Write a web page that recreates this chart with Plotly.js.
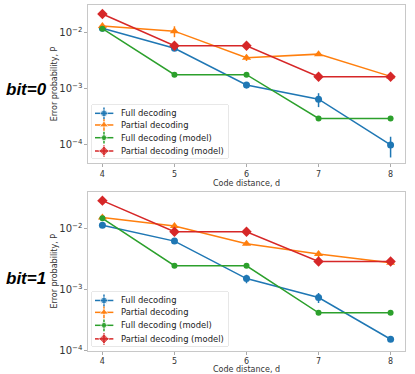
<!DOCTYPE html>
<html>
<head>
<meta charset="utf-8">
<script src="https://cdn.plot.ly/plotly-3.0.1.min.js"></script>
<style>
  body { margin: 0; background: white; }
  #graph { width: 415px; height: 374px; }
</style>
</head>
<body>
<div id="graph"></div>
<script>
// code distances
var d = [4, 5, 6, 7, 8];

// bit=0 panel
var full0 = [0.0118, 0.0052, 0.00116, 0.00065, 0.0001];
var full0_err = [0.0004, 0.0003, 0.00015, 0.00018, 0.00004];
var part0 = [0.0129, 0.0105, 0.00355, 0.0041, 0.00165];
var part0_err = [0.0005, 0.0023, 0.00045, 0.0003, 0.00012];
var fullModel0 = [0.0116, 0.00177, 0.00177, 0.000295, 0.000295];
var partModel0 = [0.0211, 0.00578, 0.00578, 0.00163, 0.00163];

// bit=1 panel
var full1 = [0.0113, 0.0062, 0.00151, 0.00074, 0.000154];
var full1_err = [0.0004, 0.0003, 0.00024, 0.00014, 0.00001];
var part1 = [0.0151, 0.0109, 0.0056, 0.0038, 0.00274];
var part1_err = [0.0006, 0.0005, 0.0003, 0.0004, 0.00015];
var fullModel1 = [0.0146, 0.00245, 0.00245, 0.000416, 0.000416];
var partModel1 = [0.0284, 0.0088, 0.0088, 0.00288, 0.00288];

var names = ['Full decoding', 'Partial decoding', 'Full decoding (model)', 'Partial decoding (model)'];
var colors = ['#1f77b4', '#ff7f0e', '#2ca02c', '#d62728'];
var symbols = ['circle', 'triangle-up', 'circle', 'diamond'];
var sizes = [7, 8, 6, 8];

// one series as a line with markers (and error bars if given)
function series(y, err, i, xa, ya) {
    var tr = {
        x: d,
        y: y,
        xaxis: xa,
        yaxis: ya,
        mode: 'lines+markers',
        name: names[i],
        showlegend: false,
        line: {color: colors[i], width: 1.5},
        marker: {color: colors[i], symbol: symbols[i], size: sizes[i]},
        hoverinfo: 'skip'
    };
    if (err) {
        tr.error_y = {type: 'data', array: err, color: colors[i], thickness: 1.5, width: 0};
    }
    return tr;
}

// little legend samples drawn on a hidden 0..1 axis
var rows = [0.843, 0.623, 0.383, 0.132];
function legendSample(i, xa, ya) {
    return {
        x: [0.022, 0.088, 0.157],
        y: [rows[i], rows[i], rows[i]],
        xaxis: xa,
        yaxis: ya,
        mode: 'lines+markers',
        showlegend: false,
        line: {color: colors[i], width: 1.5},
        marker: {color: colors[i], symbol: symbols[i], size: [0, sizes[i], 0]},
        error_y: {type: 'data', array: [0, 0.11, 0], color: colors[i], thickness: 1.5, width: 0},
        hoverinfo: 'skip'
    };
}

var data = [
    series(full0, full0_err, 0, 'x', 'y'),
    series(part0, part0_err, 1, 'x', 'y'),
    series(fullModel0, null, 2, 'x', 'y'),
    series(partModel0, null, 3, 'x', 'y'),
    series(full1, full1_err, 0, 'x2', 'y2'),
    series(part1, part1_err, 1, 'x2', 'y2'),
    series(fullModel1, null, 2, 'x2', 'y2'),
    series(partModel1, null, 3, 'x2', 'y2')
];
for (var i = 0; i < 4; i++) {
    data.push(legendSample(i, 'x3', 'y3'));
    data.push(legendSample(i, 'x4', 'y4'));
}

var tickFont = {family: 'DejaVu Sans', size: 8, color: '#333'};
var xdomain = [88 / 415, 405 / 415];

function xAxis(anchor) {
    return {
        domain: xdomain,
        anchor: anchor,
        range: [3.8, 8.2],
        tickvals: d,
        ticks: 'outside',
        ticklen: 3,
        tickcolor: '#aaa',
        showgrid: false,
        zeroline: false,
        showline: true,
        linecolor: '#c8c8c8',
        mirror: true,
        tickfont: tickFont,
        title: {text: 'Code distance, d', font: tickFont, standoff: 1}
    };
}
function yAxis(anchor, dom, rng) {
    return {
        domain: dom,
        anchor: anchor,
        type: 'log',
        range: rng,
        dtick: 1,
        exponentformat: 'power',
        ticks: 'outside',
        ticklen: 3,
        tickcolor: '#aaa',
        showgrid: false,
        zeroline: false,
        showline: true,
        linecolor: '#c8c8c8',
        mirror: true,
        tickfont: tickFont,
        title: {text: 'Error probability, P', font: tickFont, standoff: 0}
    };
}
function hidden(dom, anchor) {
    return {domain: dom, anchor: anchor, range: [0, 1], visible: false, fixedrange: true};
}

var leg0 = [1 - 158 / 374, 1 - 105 / 374];
var leg1 = [1 - 346 / 374, 1 - 292 / 374];
var legx = [92 / 415, 228 / 415];

var annotations = [];
var legFont = {family: 'DejaVu Sans', size: 8.4, color: '#222'};
for (var i = 0; i < 4; i++) {
    annotations.push({xref: 'x3', yref: 'y3', x: 0.195, y: rows[i], text: names[i], showarrow: false,
        xanchor: 'left', yanchor: 'middle', font: legFont});
    annotations.push({xref: 'x4', yref: 'y4', x: 0.195, y: rows[i], text: names[i], showarrow: false,
        xanchor: 'left', yanchor: 'middle', font: legFont});
}
var bitFont = {family: 'Liberation Sans', size: 17, color: 'black', weight: 'bold', style: 'italic'};
annotations.push({xref: 'paper', yref: 'paper', x: 26 / 415, y: 1 - 90 / 374, text: 'bit=0',
    showarrow: false, xanchor: 'center', yanchor: 'middle', font: bitFont});
annotations.push({xref: 'paper', yref: 'paper', x: 26 / 415, y: 1 - 278 / 374, text: 'bit=1',
    showarrow: false, xanchor: 'center', yanchor: 'middle', font: bitFont});

var layout = {
    width: 415,
    height: 374,
    margin: {l: 0, r: 0, t: 0, b: 0},
    paper_bgcolor: 'white',
    plot_bgcolor: 'white',
    showlegend: false,
    xaxis: xAxis('y'),
    yaxis: yAxis('x', [1 - 163 / 374, 1 - 5 / 374], [-4.32, -1.515]),
    xaxis2: xAxis('y2'),
    yaxis2: yAxis('x2', [1 - 350.7 / 374, 1 - 191.7 / 374], [-4.0, -1.4]),
    xaxis3: hidden(legx, 'y3'),
    yaxis3: hidden(leg0, 'x3'),
    xaxis4: hidden(legx, 'y4'),
    yaxis4: hidden(leg1, 'x4'),
    shapes: [
        {type: 'rect', xref: 'paper', yref: 'paper', x0: legx[0], x1: legx[1], y0: leg0[0], y1: leg0[1],
            fillcolor: 'white', line: {color: '#d0d0d0', width: 1}, layer: 'below'},
        {type: 'rect', xref: 'paper', yref: 'paper', x0: legx[0], x1: legx[1], y0: leg1[0], y1: leg1[1],
            fillcolor: 'white', line: {color: '#d0d0d0', width: 1}, layer: 'below'}
    ],
    annotations: annotations
};

Plotly.newPlot('graph', data, layout, {displayModeBar: false, staticPlot: true});
</script>
</body>
</html>
